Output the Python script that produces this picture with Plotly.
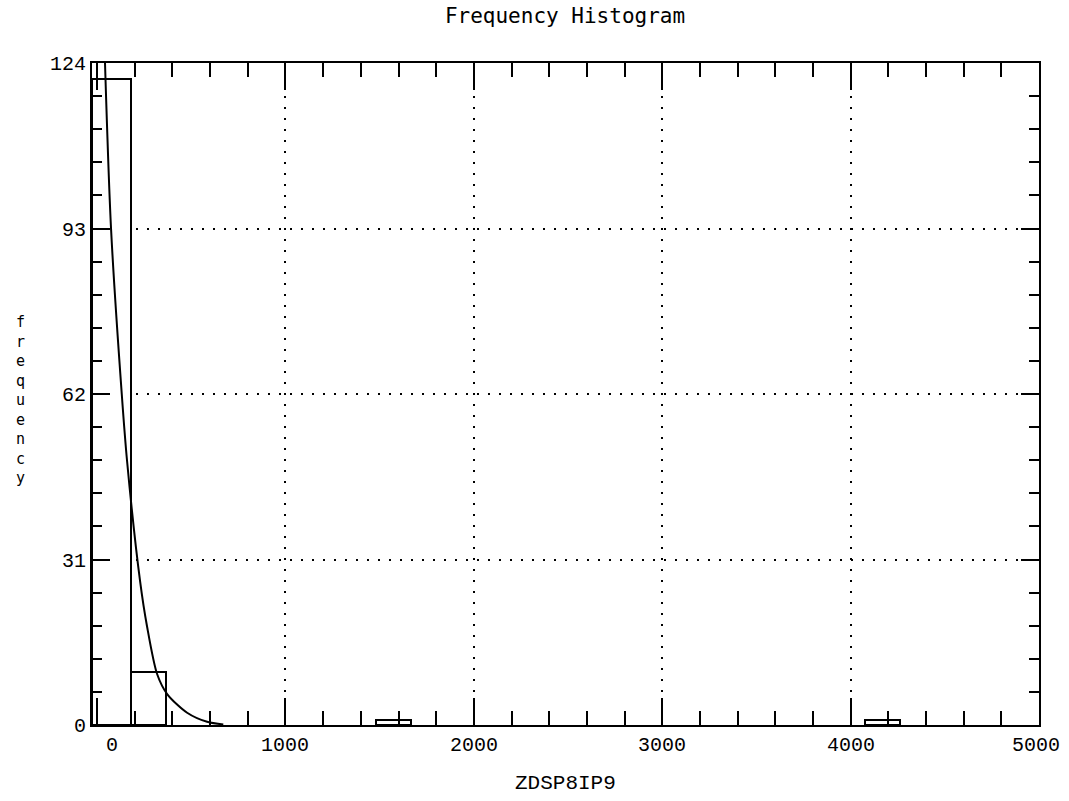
import plotly.graph_objects as go

# ---- data ----
bin_lo = [-27, 180, 1478, 4077]
bin_hi = [180, 366, 1664, 4263]
counts = [121, 10, 1, 1]

curve_x = [42, 74, 131, 159, 228, 265, 319, 372, 478, 584, 670]
curve_y = [124, 93, 62, 49.5, 27, 18.5, 9.5, 5.8, 2.3, 0.6, 0.1]

x_ticks = [0, 1000, 2000, 3000, 4000, 5000]
x_labels = ["0", "1000", "2000", "3000", "4000", "5000"]
y_ticks = [0, 31, 62, 93, 124]
y_labels = ["0", "31", "62", "93", "124"]

title_text = "Frequency Histogram"
x_title = "ZDSP8IP9"
y_title = "frequency"

centers = [(a + b) / 2 for a, b in zip(bin_lo, bin_hi)]
widths = [b - a for a, b in zip(bin_lo, bin_hi)]

MONO = "Liberation Mono"
PIX = "DejaVu Sans Mono"

fig = go.Figure()
fig.add_trace(go.Bar(
    x=centers, y=counts, width=widths,
    marker=dict(color="white", line=dict(color="black", width=2)),
    showlegend=False, hoverinfo="skip",
))
fig.add_trace(go.Scatter(
    x=curve_x, y=curve_y, mode="lines",
    line=dict(color="black", width=2, shape="spline", smoothing=0.8),
    showlegend=False, hoverinfo="skip",
))

W, H = 1069, 801
fig.update_layout(
    width=W, height=H,
    margin=dict(l=92, r=30, t=63, b=76),
    paper_bgcolor="white", plot_bgcolor="white",
    bargap=0,
    title=dict(text=title_text, x=565 / W, xanchor="center",
               y=1 - 16 / H, yanchor="middle",
               font=dict(family=PIX, size=21, color="black")),
)

fig.update_xaxes(
    range=[-27, 5000], autorange=False,
    tickvals=x_ticks, showticklabels=False,
    ticks="inside", ticklen=27, tickwidth=2, tickcolor="black",
    showline=True, linewidth=2, linecolor="black", mirror="ticks",
    showgrid=True, gridcolor="black", gridwidth=2, griddash="2px,9px",
    zeroline=False,
    minor=dict(dtick=200, tick0=0, ticks="inside", ticklen=14, tickwidth=2,
               tickcolor="black", showgrid=False),
)
fig.update_yaxes(
    range=[0, 124], autorange=False,
    tickvals=y_ticks, ticktext=y_labels,
    tickfont=dict(family=MONO, size=20, color="black"),
    ticks="inside", ticklen=18, tickwidth=2, tickcolor="black",
    showline=True, linewidth=2, linecolor="black", mirror="ticks",
    showgrid=True, gridcolor="black", gridwidth=2, griddash="2px,9px",
    zeroline=False,
    minor=dict(dtick=6.2, tick0=0, ticks="inside", ticklen=10, tickwidth=2,
               tickcolor="black", showgrid=False),
)

# x tick labels
n = len(x_ticks)
for i, (v, t) in enumerate(zip(x_ticks, x_labels)):
    fig.add_annotation(
        x=v, xref="x", y=0, yref="paper", text=t, showarrow=False,
        xanchor="center", yanchor="middle", yshift=-20,
        xshift=15 if i == 0 else (-3 if i == n - 1 else 0),
        font=dict(family=MONO, size=20, color="black"),
    )

fig.add_annotation(
    x=0.5, xref="paper", y=0, yref="paper", text=x_title, showarrow=False,
    xanchor="center", yanchor="middle", yshift=-58,
    font=dict(family=MONO, size=21, color="black"),
)
fig.add_annotation(
    x=-0.076, xref="paper", y=0.491, yref="paper",
    text="<br>".join(list(y_title)), showarrow=False,
    xanchor="center", yanchor="middle", align="center",
    font=dict(family=PIX, size=15, color="black"),
)

fig.write_html(
    "out.html",
    config={"displayModeBar": False},
    post_script="document.body.style.margin='0';document.body.style.overflow='hidden';",
)
